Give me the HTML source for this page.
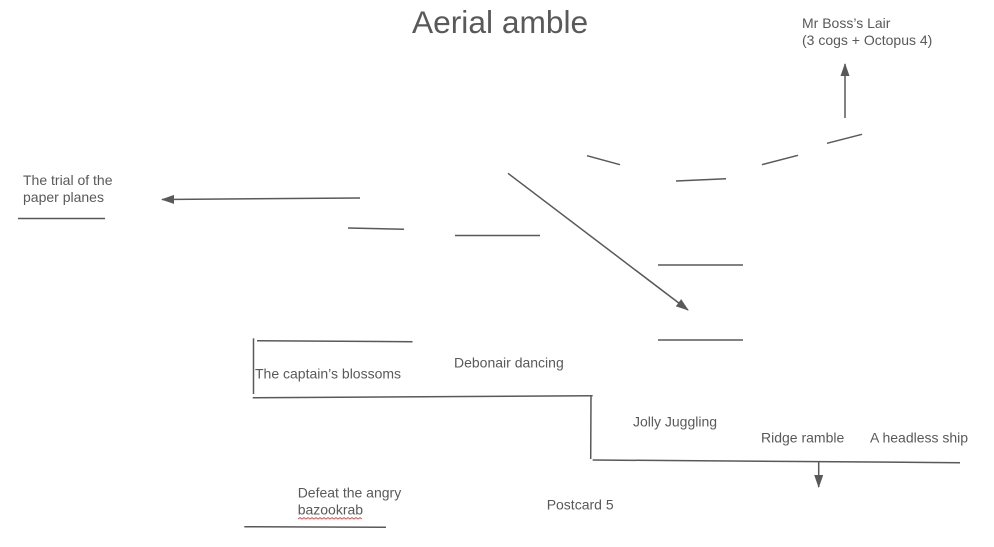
<!DOCTYPE html>
<html>
<head>
<meta charset="utf-8">
<style>
  html, body { margin:0; padding:0; background:#fff; }
  body { width:994px; height:547px; overflow:hidden; }
  svg { display:block; }
  text { font-family: "Liberation Sans", Arial, sans-serif; fill:#595959; }
</style>
</head>
<body>
<svg width="994" height="547" viewBox="0 0 994 547" xmlns="http://www.w3.org/2000/svg">
  <defs>
    <marker id="ah" markerWidth="13" markerHeight="9" refX="12" refY="4.5" orient="auto" markerUnits="userSpaceOnUse">
      <path d="M0,0 L13,4.5 L0,9 Z" fill="#595959"/>
    </marker>
  </defs>

  <!-- Title -->
  <text x="412" y="33" font-size="31.7">Aerial amble</text>

  <!-- Mr Boss's Lair -->
  <text x="802" y="28" font-size="14">Mr Boss’s Lair</text>
  <text x="802" y="45" font-size="14">(3 cogs + Octopus 4)</text>

  <g stroke="#595959" stroke-width="1.5" fill="none" stroke-linecap="butt">
    <!-- up arrow -->
    <line x1="845" y1="118" x2="845" y2="64" marker-end="url(#ah)"/>
    <!-- short segments upper -->
    <line x1="827" y1="143.3" x2="862" y2="134.3"/>
    <line x1="762" y1="164.7" x2="798" y2="155.3"/>
    <line x1="676" y1="181" x2="726" y2="178.7"/>
    <line x1="587" y1="155.7" x2="620" y2="164.7"/>

    <!-- left arrow -->
    <line x1="360" y1="198" x2="162" y2="199.5" marker-end="url(#ah)"/>
    <line x1="18" y1="218.5" x2="105" y2="218.5"/>
    <line x1="348" y1="228" x2="404" y2="229.3"/>
    <line x1="455" y1="235.5" x2="540" y2="235.5"/>

    <!-- diagonal arrow -->
    <line x1="508" y1="173.3" x2="688" y2="310" marker-end="url(#ah)"/>

    <line x1="658" y1="265" x2="743" y2="265"/>
    <line x1="658" y1="340" x2="743" y2="340"/>

    <!-- captain's box -->
    <line x1="253.5" y1="338.3" x2="253.5" y2="394"/>
    <line x1="257" y1="340.7" x2="412.5" y2="341.7"/>
    <line x1="252.7" y1="397.7" x2="592.7" y2="395.7"/>
    <line x1="591" y1="395.7" x2="590.7" y2="459"/>
    <line x1="592.7" y1="460" x2="960" y2="462.7"/>

    <!-- down arrow -->
    <line x1="818.7" y1="461" x2="818.7" y2="487" marker-end="url(#ah)"/>

    <!-- bottom-left underline -->
    <line x1="244.3" y1="526.7" x2="386" y2="527.3"/>
  </g>

  <!-- Labels -->
  <text x="23" y="185" font-size="14">The trial of the</text>
  <text x="23" y="202" font-size="14">paper planes</text>

  <text x="255" y="378.5" font-size="14">The captain’s blossoms</text>
  <text x="454" y="367.7" font-size="14">Debonair dancing</text>
  <text x="633" y="426.7" font-size="14">Jolly Juggling</text>
  <text x="761" y="442.7" font-size="14">Ridge ramble</text>
  <text x="870" y="442.7" font-size="14">A headless ship</text>

  <text x="297.7" y="497.3" font-size="14">Defeat the angry</text>
  <text x="297.7" y="514.3" font-size="14">bazookrab</text>
  <!-- red squiggle -->
  <path d="M298,519 l2,-1.5 l2,1.5 l2,-1.5 l2,1.5 l2,-1.5 l2,1.5 l2,-1.5 l2,1.5 l2,-1.5 l2,1.5 l2,-1.5 l2,1.5 l2,-1.5 l2,1.5 l2,-1.5 l2,1.5 l2,-1.5 l2,1.5 l2,-1.5 l2,1.5 l2,-1.5 l2,1.5 l2,-1.5 l2,1.5 l2,-1.5 l2,1.5 l2,-1.5 l2,1.5 l2,-1.5 l2,1.5 l2,-1.5 l2,1.5" stroke="#e05050" stroke-width="0.9" fill="none"/>

  <text x="546.7" y="509.3" font-size="14">Postcard 5</text>
</svg>
</body>
</html>
